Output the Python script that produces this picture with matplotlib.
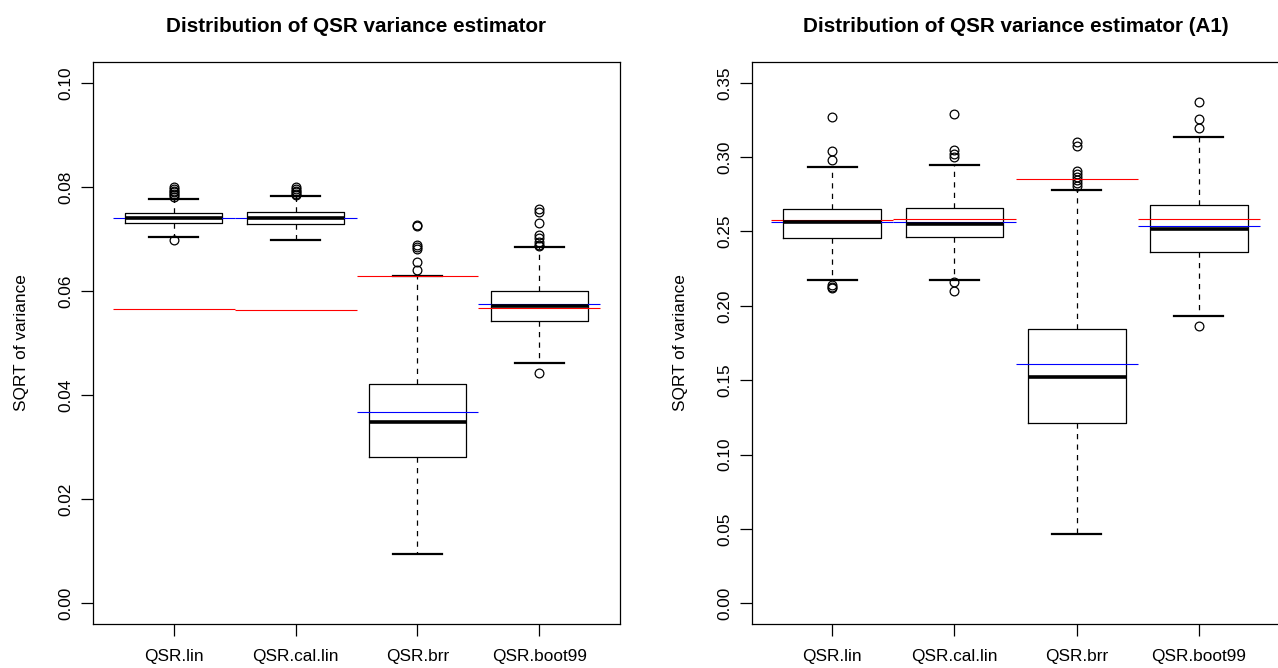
import matplotlib
matplotlib.use("Agg")
import matplotlib.pyplot as plt

plt.rcParams['font.family'] = ['Liberation Sans', 'DejaVu Sans']

# ---------------- data ----------------
categories = ["QSR.lin", "QSR.cal.lin", "QSR.brr", "QSR.boot99"]

# Panel 1: Distribution of QSR variance estimator
p1_q1 = [0.0730, 0.0729, 0.0281, 0.0542]
p1_med = [0.0740, 0.0740, 0.0349, 0.0571]
p1_q3 = [0.0749, 0.0751, 0.0422, 0.0599]
p1_wlo = [0.0704, 0.0697, 0.0094, 0.0462]
p1_whi = [0.0777, 0.0782, 0.0629, 0.0684]
p1_fliers = [
    [0.0697, 0.0781, 0.0784, 0.0787, 0.0790, 0.0793, 0.0796, 0.0799],
    [0.0784, 0.0787, 0.0790, 0.0793, 0.0796, 0.0799],
    [0.0640, 0.0656, 0.0681, 0.0685, 0.0688, 0.0725, 0.0727],
    [0.0442, 0.0686, 0.0688, 0.0695, 0.0701, 0.0708, 0.0731, 0.0751, 0.0757],
]
p1_blue = [0.0740, 0.0740, 0.0368, 0.0574]
p1_red = [0.0565, 0.0563, 0.0628, 0.0568]
p1_yticks = [0.00, 0.02, 0.04, 0.06, 0.08, 0.10]
p1_yticklabels = ["0.00", "0.02", "0.04", "0.06", "0.08", "0.10"]
p1_title = "Distribution of QSR variance estimator"

# Panel 2: Distribution of QSR variance estimator (A1)
p2_q1 = [0.2456, 0.2461, 0.1211, 0.2364]
p2_med = [0.2562, 0.2553, 0.1520, 0.2515]
p2_q3 = [0.2651, 0.2656, 0.1843, 0.2678]
p2_wlo = [0.2174, 0.2174, 0.0465, 0.1934]
p2_whi = [0.2933, 0.2947, 0.2777, 0.3135]
p2_fliers = [
    [0.2118, 0.2127, 0.2143, 0.2981, 0.3039, 0.3267],
    [0.2098, 0.2159, 0.2999, 0.3021, 0.3048, 0.3288],
    [0.2806, 0.2824, 0.2846, 0.2868, 0.2887, 0.2909, 0.3077, 0.3099],
    [0.1865, 0.3198, 0.3256, 0.3372],
]
p2_blue = [0.2564, 0.2564, 0.1610, 0.2537]
p2_red = [0.2579, 0.2582, 0.2851, 0.2584]
p2_yticks = [0.00, 0.05, 0.10, 0.15, 0.20, 0.25, 0.30, 0.35]
p2_yticklabels = ["0.00", "0.05", "0.10", "0.15", "0.20", "0.25", "0.30", "0.35"]
p2_title = "Distribution of QSR variance estimator (A1)"

ylabel_text = "SQRT of variance"

# ---------------- layout ----------------
W, H = 1278, 668
fig = plt.figure(figsize=(W / 100, H / 100), dpi=100)

FS = 12.4
TFS = 14.9


def add_ax(x0, x1, ytop, ybot):
    return fig.add_axes([x0 / W, 1 - ybot / H, (x1 - x0) / W, (ybot - ytop) / H])


def draw(ax, q1, med, q3, wlo, whi, fliers, blue, red, yticks, yticklabels, ylim, title, x0, x1):
    pos = list(range(1, len(categories) + 1))
    stats = []
    for c, a, m, b, lo, hi, f in zip(categories, q1, med, q3, wlo, whi, fliers):
        stats.append(dict(label=c, q1=a, med=m, q3=b, whislo=lo, whishi=hi, fliers=f))
    ax.bxp(stats, positions=pos, widths=0.8, capwidths=0.4, showfliers=True,
           boxprops=dict(color='black', linewidth=0.9),
           whiskerprops=dict(color='black', linewidth=0.9, linestyle=(0, (4.2, 4.2))),
           capprops=dict(color='black', linewidth=1.6),
           medianprops=dict(color='black', linewidth=2.6, solid_capstyle='butt'),
           flierprops=dict(marker='o', markerfacecolor='none', markeredgecolor='black',
                           markersize=6.3, markeredgewidth=0.9, linestyle='none'))
    for p, b, r in zip(pos, blue, red):
        ax.hlines(b, p - 0.5, p + 0.5, color='#0000FF', lw=0.8)
        ax.hlines(r, p - 0.5, p + 0.5, color='#FF0000', lw=0.8)
    ax.set_xlim(0.34, 4.66)
    ax.set_ylim(*ylim)
    ax.set_xticks(pos)
    ax.set_xticklabels(categories, fontsize=FS)
    ax.set_yticks(yticks)
    ax.set_yticklabels(yticklabels, fontsize=FS, rotation=90, va='center')
    ax.tick_params(axis='both', direction='out', length=8.6, width=0.9, color='black')
    ax.tick_params(axis='x', pad=9.3)
    ax.tick_params(axis='y', pad=5.5)
    for s in ax.spines.values():
        s.set_linewidth(0.9)
        s.set_color('black')
    ax.set_ylabel(ylabel_text, fontsize=FS)
    ax.yaxis.set_label_coords(-0.121, 0.5)
    fig.text((x0 + x1) / 2 / W, 1 - 32 / H, title, ha='center', va='baseline',
             fontsize=TFS, fontweight='bold')


ax1 = add_ax(93, 620, 62, 624)
draw(ax1, p1_q1, p1_med, p1_q3, p1_wlo, p1_whi, p1_fliers, p1_blue, p1_red,
     p1_yticks, p1_yticklabels, (-0.004, 0.104), p1_title, 93, 620)

ax2 = add_ax(751.5, 1279.5, 62, 624)
draw(ax2, p2_q1, p2_med, p2_q3, p2_wlo, p2_whi, p2_fliers, p2_blue, p2_red,
     p2_yticks, p2_yticklabels, (-0.014, 0.364), p2_title, 751.5, 1279.5)

fig.savefig("out.png", dpi=100)
